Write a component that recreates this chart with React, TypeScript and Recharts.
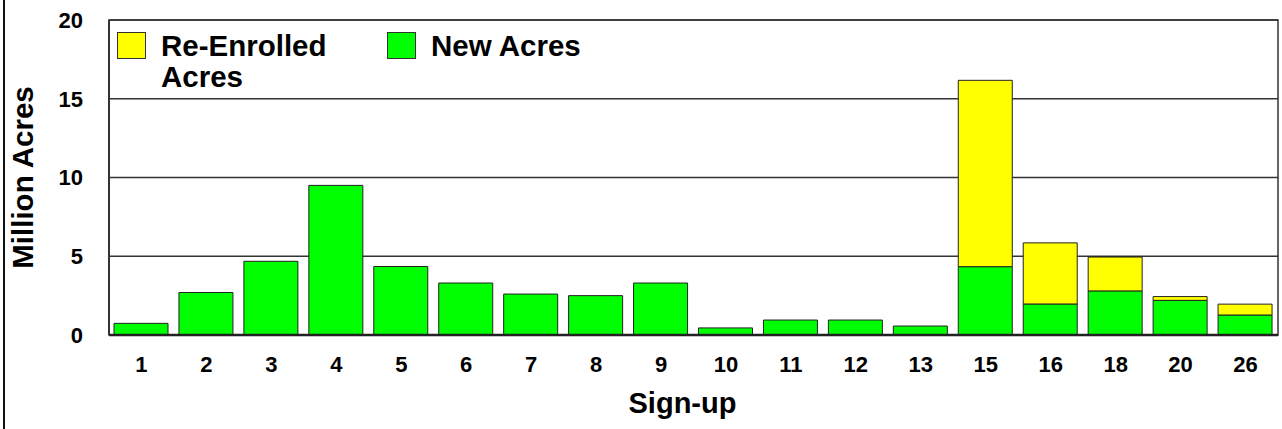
import { BarChart, Bar, XAxis, YAxis, CartesianGrid, ReferenceArea, Label } from "recharts";

const categories = ["1", "2", "3", "4", "5", "6", "7", "8", "9", "10", "11", "12", "13", "15", "16", "18", "20", "26"];
const newAcres = [0.74, 2.7, 4.68, 9.5, 4.35, 3.3, 2.6, 2.5, 3.3, 0.45, 0.95, 0.95, 0.57, 4.34, 1.97, 2.8, 2.2, 1.27];
const reEnrolled = [0, 0, 0, 0, 0, 0, 0, 0, 0, 0, 0, 0, 0, 11.83, 3.88, 2.15, 0.24, 0.69];
const yTicks = [0, 5, 10, 15, 20];

const FONT = "'Liberation Sans', Arial, sans-serif";
const YELLOW = "#ffff00";
const GREEN = "#00ff00";

const legendItems = [
  { name: ["Re-Enrolled", "Acres"], color: YELLOW, left: 117 },
  { name: ["New Acres"], color: GREEN, left: 387 },
];

const data = categories.map((c, i) => ({ signup: c, newAcres: newAcres[i], reEnrolled: reEnrolled[i] }));

export default function App() {
  const tick = { fill: "#000", fontSize: 22, fontWeight: "bold", fontFamily: FONT };
  return (
    <div style={{ position: "absolute", left: 0, top: 0, width: 1282, height: 429, background: "#fff", fontFamily: FONT }}>
      <div style={{ position: "absolute", left: 3, top: 0, width: 2, height: 429, background: "#111" }} />
      <BarChart width={1282} height={429} data={data} margin={{ top: 20, right: 4, bottom: 0, left: 0 }}>
        <CartesianGrid vertical={false} stroke="#333" strokeWidth={1.3} />
        <ReferenceArea x1="1" x2="26" y1={0} y2={20} fill="none" stroke="#333" strokeWidth={1.5} />
        <XAxis
          dataKey="signup"
          height={94}
          tick={tick}
          tickLine={false}
          tickSize={6}
          tickMargin={15}
          axisLine={{ stroke: "#222", strokeWidth: 2.5 }}
        >
          <Label
            value="Sign-up"
            position="insideBottom"
            offset={16}
            dx={-11}
            style={{ fill: "#000", fontSize: 29, fontWeight: "bold", fontFamily: FONT }}
          />
        </XAxis>
        <YAxis
          width={109}
          domain={[0, 20]}
          ticks={yTicks}
          tick={tick}
          tickLine={false}
          tickSize={6}
          tickMargin={20}
          axisLine={{ stroke: "#333", strokeWidth: 2 }}
        >
          <Label
            content={({ viewBox }: any) => {
              const cy = viewBox.y + viewBox.height / 2;
              return (
                <text
                  x={22}
                  y={cy}
                  transform={`rotate(-90, 22, ${cy})`}
                  textAnchor="middle"
                  dominantBaseline="central"
                  style={{ fill: "#000", fontSize: 29.5, fontWeight: "bold", fontFamily: FONT }}
                >
                  Million Acres
                </text>
              );
            }}
          />
        </YAxis>
        <Bar dataKey="newAcres" stackId="a" fill={GREEN} stroke="#222" strokeWidth={1} barSize={54} isAnimationActive={false} />
        <Bar dataKey="reEnrolled" stackId="a" fill={YELLOW} stroke="#222" strokeWidth={1} barSize={54} isAnimationActive={false} />
      </BarChart>
      {legendItems.map((item) => (
        <div key={item.color} style={{ position: "absolute", left: item.left, top: 32, display: "flex", alignItems: "flex-start" }}>
          <div style={{ width: 27, height: 25, background: item.color, border: "1px solid #333" }} />
          <div style={{ marginLeft: 15, marginTop: -2, fontSize: 29.5, fontWeight: "bold", lineHeight: "31px", color: "#000" }}>
            {item.name.map((line) => (
              <div key={line}>{line}</div>
            ))}
          </div>
        </div>
      ))}
    </div>
  );
}
